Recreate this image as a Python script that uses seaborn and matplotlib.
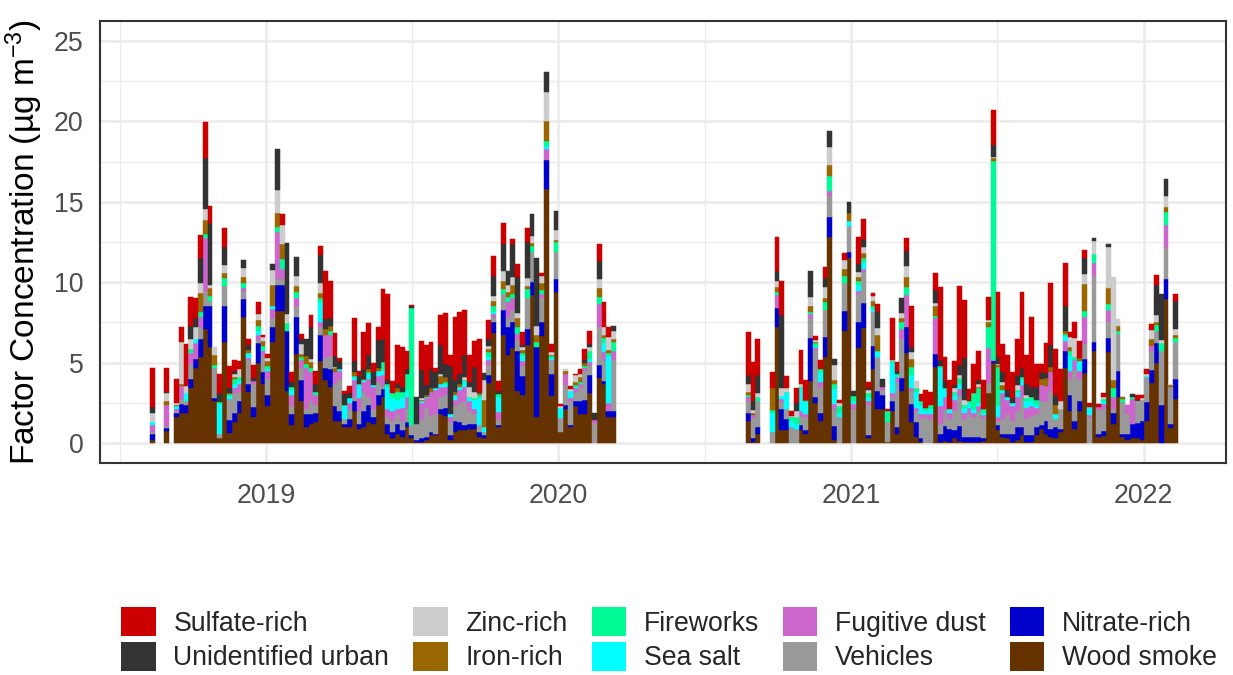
import numpy as np
import pandas as pd
import matplotlib
matplotlib.use("Agg")
import matplotlib.pyplot as plt
import matplotlib.dates as mdates
from matplotlib.patches import Patch
from matplotlib.ticker import MultipleLocator
import seaborn as sns

# ---------------------------------------------------------------------------
# Sampling: one filter every sixth day over two campaigns
# ---------------------------------------------------------------------------
campaign_1 = ("2018-08-12", "2020-03-10")
campaign_2 = ("2020-08-25", "2022-02-10")
missing_samples = ["2018-08-18", "2018-08-24", "2018-09-05", "2020-09-12", "2020-09-18"]
sample_step_days = 6

# Factors listed from the top of each stack down to the bottom
factors = ["Sulfate-rich", "Unidentified urban", "Zinc-rich", "Iron-rich", "Fireworks",
           "Sea salt", "Fugitive dust", "Vehicles", "Nitrate-rich", "Wood smoke"]
factor_colors = ["#CC0000", "#333333", "#CCCCCC", "#996600", "#00FA96",
                 "#00FFFF", "#CC66CC", "#999999", "#0000CC", "#663300"]

conc_ticks = [0, 5, 10, 15, 20, 25]

# Factor concentrations (ug m-3), campaign 1 followed by campaign 2
wood_smoke = [
    0.2, 0.75, 1.6, 1.85, 1.85, 3.45, 4.65, 5.35, 7.1, 6.0,
    2.6, 0.3, 6.3, 0.65, 1.3, 1.9, 7.85, 3.2, 1.65, 5.0,
    3.65, 2.3, 6.3, 8.2, 8.2, 3.25, 1.15, 5.55, 2.6, 1.0,
    1.2, 1.3, 5.1, 3.9, 3.5, 1.4, 1.4, 1.0, 1.0, 2.0,
    0.9, 1.0, 1.3, 1.2, 2.4, 2.85, 0.6, 0.3, 0.6, 0.4,
    1.0, 0.3, 0.1, 0.1, 0.2, 0.5, 0.5, 1.8, 1.7, 0.2,
    0.7, 0.8, 0.8, 0.9, 0.9, 0.4, 0.3, 3.75, 6.85, 1.0,
    6.75, 5.5, 5.9, 3.25, 3.0, 6.1, 9.2, 1.6, 6.65, 15.8,
    2.95, 9.4, 0.7, 2.1, 1.0, 2.3, 1.8, 1.8, 3.15, 0.0,
    4.05, 3.65, 1.6, 1.6,
    1.4, 0.05, 0.6, 0.0, 7.25, 0.8, 0.8, 0.0, 0.0, 0.8,
    0.6, 3.85, 2.5, 1.4, 5.35, 12.8, 0.2, 0.0, 6.95, 11.5,
    0.0, 5.9, 7.15, 0.3, 4.6, 2.1, 2.1, 0.1, 2.0, 0.6,
    3.25, 5.6, 1.3, 0.4, 0.1, 0.0, 0.0, 4.75, 0.1, 0.15,
    0.1, 0.3, 0.15, 0.05, 0.1, 0.1, 0.1, 0.15, 3.15, 5.0,
    0.8, 0.4, 0.3, 0.1, 0.2, 0.5, 0.1, 0.1, 0.5, 0.9,
    0.55, 0.4, 0.35, 0.7, 4.65, 2.0, 0.9, 2.0, 4.35, 0.0,
    5.75, 0.4, 0.45, 5.65, 1.2, 2.85, 0.4, 0.2, 0.3, 0.35,
    0.2, 1.4, 3.75, 5.0, 0.0, 8.95, 0.95, 2.75,
]
nitrate_rich = [
    0.35, 0.2, 0.3, 0.6, 0.55, 0.55, 0.6, 1.1, 1.45, 2.55,
    0.2, 0.0, 2.25, 0.8, 0.6, 0.7, 1.1, 0.5, 0.6, 1.2,
    0.8, 0.7, 0.9, 1.6, 1.6, 3.7, 0.65, 2.3, 1.3, 0.8,
    0.6, 0.6, 1.65, 0.8, 1.1, 0.9, 0.6, 0.2, 0.5, 0.6,
    0.3, 1.0, 1.1, 0.4, 0.6, 0.5, 0.6, 0.4, 0.6, 0.4,
    0.3, 0.2, 0.1, 0.2, 0.2, 0.2, 0.1, 0.3, 0.5, 0.3,
    0.7, 0.5, 0.3, 0.3, 0.3, 0.3, 0.2, 0.5, 0.7, 0.15,
    1.55, 1.7, 1.6, 2.45, 1.2, 1.0, 0.8, 4.4, 0.9, 1.8,
    1.35, 0.8, 0.0, 0.3, 0.1, 0.3, 0.8, 0.9, 1.1, 0.0,
    0.8, 0.2, 0.4, 0.4,
    0.5, 0.3, 0.4, 0.0, 1.15, 1.35, 0.7, 0.0, 0.0, 0.3,
    0.2, 2.7, 0.4, 0.5, 1.25, 1.25, 0.85, 0.0, 1.25, 0.4,
    0.0, 1.65, 1.55, 0.2, 1.45, 1.15, 0.9, 0.0, 0.6, 0.4,
    0.8, 1.65, 1.15, 0.9, 0.2, 0.0, 0.0, 0.8, 0.5, 0.9,
    0.8, 0.5, 0.9, 0.35, 0.3, 0.3, 0.3, 0.2, 0.0, 0.1,
    0.3, 0.2, 0.3, 0.5, 0.8, 0.5, 0.4, 0.4, 0.5, 0.2,
    0.8, 0.5, 0.65, 0.2, 1.05, 1.0, 0.5, 0.6, 0.9, 0.0,
    0.55, 0.2, 0.3, 0.9, 0.7, 1.65, 0.2, 0.4, 0.9, 0.9,
    1.15, 1.15, 0.8, 1.25, 2.4, 1.25, 0.25, 1.25,
]
vehicles = [
    0.15, 0.1, 0.1, 0.3, 0.2, 0.9, 0.0, 0.8, 0.9, 0.3,
    1.85, 0.3, 1.2, 1.3, 1.2, 0.6, 0.5, 1.5, 1.4, 0.2,
    1.0, 1.0, 0.6, 0.4, 0.4, 0.0, 0.5, 0.7, 0.8, 0.3,
    0.8, 0.5, 0.5, 0.6, 0.8, 1.35, 2.0, 0.3, 0.6, 0.3,
    0.8, 1.2, 0.5, 0.5, 0.8, 0.2, 0.4, 0.7, 0.6, 0.6,
    0.8, 0.6, 1.0, 1.2, 1.8, 1.0, 1.2, 0.8, 0.8, 0.8,
    0.9, 1.2, 1.5, 0.8, 0.6, 0.4, 0.2, 0.6, 0.3, 0.3,
    1.0, 0.6, 0.8, 0.8, 0.6, 1.95, 1.85, 0.0, 1.45, 0.0,
    0.8, 1.65, 0.85, 1.2, 1.5, 0.6, 0.8, 1.8, 0.6, 1.25,
    2.35, 1.3, 0.0, 3.2,
    0.7, 1.2, 1.65, 0.7, 0.0, 0.4, 0.6, 1.0, 0.9, 0.6,
    0.8, 1.2, 2.9, 1.6, 1.7, 1.3, 1.1, 1.6, 1.75, 1.6,
    2.15, 1.7, 1.95, 1.9, 2.1, 2.1, 0.3, 1.2, 0.3, 2.8,
    2.45, 0.0, 0.8, 0.7, 1.2, 1.6, 1.5, 0.0, 0.6, 1.0,
    0.6, 1.2, 1.9, 1.1, 1.4, 1.2, 1.6, 1.2, 0.6, 0.0,
    0.3, 0.9, 1.2, 0.8, 1.0, 1.9, 1.0, 1.2, 0.8, 1.5,
    1.2, 2.35, 0.5, 1.2, 0.0, 1.0, 3.15, 1.4, 0.9, 1.6,
    4.1, 1.45, 1.4, 1.0, 0.2, 2.3, 1.95, 1.2, 0.0, 1.3,
    1.35, 1.55, 1.2, 0.7, 3.3, 1.9, 2.3, 2.3,
]
fugitive_dust = [
    0.4, 1.35, 0.1, 0.8, 0.0, 0.7, 1.0, 0.6, 3.3, 0.0,
    0.0, 0.0, 0.0, 0.0, 0.3, 0.5, 0.2, 0.1, 0.2, 0.3,
    0.3, 0.5, 0.55, 2.9, 0.6, 0.0, 0.7, 0.5, 0.5, 2.6,
    1.85, 0.6, 0.3, 1.4, 1.3, 0.8, 0.5, 0.0, 0.4, 1.0,
    0.8, 0.6, 1.1, 1.4, 0.4, 0.7, 0.5, 0.6, 0.3, 0.8,
    0.8, 0.0, 0.0, 1.0, 0.6, 1.5, 1.5, 0.6, 0.5, 0.3,
    0.4, 0.8, 0.9, 0.6, 0.3, 0.0, 0.0, 0.3, 0.2, 0.5,
    0.0, 1.0, 0.7, 0.3, 0.3, 0.0, 0.0, 0.0, 0.3, 0.7,
    0.1, 0.0, 0.0, 0.7, 0.2, 0.2, 0.3, 0.2, 0.2, 0.2,
    1.45, 0.5, 0.5, 0.5,
    0.3, 0.2, 0.0, 0.0, 0.8, 0.2, 0.0, 0.0, 0.0, 0.3,
    0.2, 0.3, 0.1, 0.3, 0.0, 0.35, 0.3, 0.0, 0.0, 0.0,
    0.3, 0.2, 0.2, 0.2, 0.0, 0.0, 0.2, 0.0, 0.2, 0.3,
    0.6, 1.95, 0.2, 0.2, 0.3, 0.2, 0.3, 2.25, 1.1, 0.8,
    0.4, 0.7, 0.4, 0.4, 0.4, 0.3, 0.3, 0.2, 2.15, 0.1,
    0.2, 1.6, 0.9, 0.9, 0.9, 0.7, 0.7, 0.6, 0.4, 1.0,
    1.0, 1.2, 0.0, 0.0, 0.65, 0.5, 0.6, 0.5, 1.7, 0.15,
    0.8, 0.2, 0.3, 0.7, 0.8, 0.0, 0.0, 0.6, 1.55, 0.0,
    0.0, 0.0, 0.3, 0.0, 0.0, 1.45, 0.0, 0.0,
]
sea_salt = [
    0.2, 0.0, 0.2, 0.0, 0.55, 0.0, 0.25, 0.0, 0.0, 0.0,
    0.0, 1.85, 0.0, 0.2, 0.3, 0.2, 0.0, 0.3, 0.0, 0.3,
    0.0, 0.1, 0.15, 0.0, 0.0, 0.0, 0.3, 0.0, 0.0, 0.0,
    0.0, 0.0, 1.2, 0.0, 0.0, 0.0, 0.1, 0.8, 0.3, 0.2,
    0.8, 0.1, 0.3, 0.1, 0.3, 0.3, 1.4, 0.8, 0.6, 0.7,
    0.4, 0.0, 0.0, 0.1, 0.1, 0.0, 0.1, 0.2, 0.2, 0.2,
    0.3, 0.2, 0.3, 0.2, 0.6, 1.7, 0.3, 0.2, 0.1, 0.9,
    0.0, 0.0, 0.0, 0.0, 0.3, 0.0, 0.0, 0.0, 0.0, 0.15,
    0.1, 0.0, 0.65, 0.0, 0.45, 0.1, 0.0, 0.0, 0.2, 0.0,
    0.0, 0.6, 2.9, 0.0,
    0.0, 0.0, 0.0, 1.15, 0.0, 0.2, 1.0, 0.35, 0.3, 1.4,
    0.8, 0.0, 0.1, 0.6, 0.0, 0.0, 0.9, 0.3, 0.0, 0.3,
    0.2, 0.4, 0.4, 0.3, 0.2, 0.3, 0.0, 0.0, 1.9, 0.1,
    0.0, 0.0, 0.8, 1.0, 0.6, 0.2, 0.3, 0.0, 2.4, 0.5,
    0.2, 0.3, 0.3, 0.3, 0.3, 0.2, 0.2, 0.1, 0.0, 0.0,
    0.7, 0.2, 0.2, 0.2, 0.3, 0.4, 0.4, 0.3, 0.2, 0.0,
    0.0, 0.0, 0.3, 0.05, 0.3, 0.9, 0.0, 0.6, 0.0, 0.5,
    0.0, 0.0, 0.2, 0.0, 0.0, 0.0, 0.0, 0.0, 0.0, 0.1,
    0.0, 0.1, 0.0, 0.0, 0.0, 0.0, 0.0, 0.0,
]
fireworks = [
    0.0, 0.0, 0.0, 0.0, 0.0, 0.25, 0.0, 0.3, 0.25, 0.3,
    0.2, 0.1, 0.5, 0.1, 0.3, 0.2, 0.3, 0.0, 0.0, 0.3,
    0.3, 0.2, 0.0, 0.35, 0.65, 0.5, 0.2, 0.35, 0.15, 0.2,
    0.2, 0.2, 0.3, 0.0, 0.3, 0.0, 0.0, 0.1, 0.0, 0.1,
    0.1, 0.0, 0.1, 0.0, 0.0, 0.5, 0.2, 0.3, 0.5, 0.3,
    1.0, 7.3, 0.0, 0.0, 0.0, 0.0, 0.0, 0.0, 0.1, 0.0,
    0.0, 0.0, 0.1, 0.1, 0.1, 0.2, 0.0, 0.3, 0.4, 0.2,
    0.3, 0.3, 0.3, 0.4, 0.2, 0.5, 0.4, 0.3, 0.2, 0.35,
    0.1, 0.65, 0.0, 0.0, 0.0, 0.1, 0.1, 0.1, 0.5, 0.0,
    0.45, 0.3, 0.2, 0.6,
    0.1, 0.0, 0.2, 0.2, 0.2, 0.0, 0.1, 0.3, 0.4, 0.1,
    0.0, 0.1, 0.2, 0.2, 0.5, 0.9, 0.3, 0.4, 0.45, 0.0,
    0.3, 0.2, 0.25, 0.2, 0.2, 0.1, 0.0, 0.7, 0.1, 0.1,
    0.4, 0.5, 0.5, 0.2, 0.2, 0.2, 0.3, 0.1, 0.1, 0.1,
    0.0, 0.2, 0.4, 0.2, 0.1, 1.0, 0.9, 0.3, 1.35, 12.35,
    2.45, 0.0, 0.0, 0.0, 0.1, 0.1, 0.2, 0.3, 0.3, 0.0,
    0.0, 0.0, 0.0, 0.0, 0.15, 0.3, 0.2, 0.0, 0.35, 0.0,
    0.55, 0.0, 0.1, 0.4, 0.5, 0.2, 0.2, 0.0, 0.1, 0.0,
    0.0, 0.0, 0.0, 0.4, 0.5, 0.8, 0.0, 0.25,
]
iron_rich = [
    0.0, 0.2, 0.1, 0.15, 0.0, 0.0, 0.0, 1.2, 0.85, 0.5,
    0.6, 0.0, 0.3, 0.05, 0.1, 0.0, 0.4, 0.2, 0.0, 0.35,
    0.3, 0.3, 1.35, 0.85, 0.9, 0.0, 0.0, 0.35, 0.2, 0.5,
    0.4, 0.0, 0.3, 0.4, 0.3, 0.2, 0.0, 0.0, 0.0, 0.2,
    0.0, 0.1, 0.2, 0.0, 0.2, 0.0, 0.0, 0.0, 0.2, 0.0,
    0.0, 0.0, 0.0, 0.1, 0.1, 0.2, 0.0, 0.5, 0.3, 0.0,
    0.2, 0.2, 0.0, 0.0, 0.0, 0.1, 1.7, 0.2, 0.3, 0.0,
    0.5, 0.3, 0.5, 0.6, 0.2, 0.2, 0.2, 0.4, 0.45, 1.2,
    0.1, 0.15, 0.0, 0.2, 0.0, 0.2, 0.3, 0.2, 0.0, 0.0,
    0.55, 0.2, 0.2, 0.2,
    0.2, 0.1, 0.0, 1.35, 0.3, 0.0, 0.0, 0.0, 0.0, 0.0,
    0.1, 0.4, 0.1, 0.0, 0.2, 0.7, 0.3, 0.0, 0.4, 0.5,
    0.0, 0.3, 0.3, 0.0, 0.3, 1.0, 0.0, 0.0, 0.0, 0.0,
    0.3, 0.6, 0.5, 0.0, 0.0, 0.0, 0.0, 0.6, 0.0, 0.0,
    0.0, 0.0, 0.0, 0.0, 0.0, 0.0, 0.1, 0.0, 0.25, 0.15,
    0.1, 0.3, 0.0, 0.0, 0.0, 0.0, 0.0, 0.0, 0.0, 0.4,
    0.5, 0.3, 0.6, 0.0, 0.15, 0.3, 0.0, 0.2, 1.7, 0.0,
    0.0, 0.0, 0.0, 1.0, 0.5, 0.3, 0.15, 0.0, 0.0, 0.0,
    0.0, 0.0, 0.4, 0.2, 0.0, 0.35, 0.1, 0.2,
]
zinc_rich = [
    0.55, 0.5, 0.1, 2.6, 0.4, 0.65, 0.7, 0.6, 0.7, 0.15,
    0.5, 0.0, 0.5, 0.0, 0.2, 0.5, 0.55, 0.0, 0.0, 0.35,
    0.25, 0.2, 0.9, 1.45, 1.2, 0.6, 0.0, 0.65, 0.6, 0.0,
    0.2, 0.0, 0.6, 0.0, 0.0, 0.1, 0.0, 0.0, 0.0, 0.0,
    0.0, 0.0, 0.0, 0.0, 0.0, 0.0, 0.0, 0.0, 0.0, 0.0,
    0.0, 0.0, 0.0, 0.1, 0.0, 0.0, 0.0, 0.1, 0.0, 0.0,
    0.0, 0.0, 0.2, 0.6, 0.4, 0.0, 1.2, 0.2, 0.3, 0.0,
    0.6, 0.4, 0.5, 0.3, 0.2, 0.5, 0.4, 0.6, 0.45, 1.8,
    0.15, 0.6, 0.1, 0.1, 0.1, 0.45, 0.2, 0.0, 0.2, 0.0,
    0.55, 0.5, 0.8, 0.5,
    0.45, 0.2, 0.3, 0.0, 0.4, 0.5, 0.2, 0.05, 0.4, 0.2,
    0.0, 0.55, 0.1, 0.0, 0.7, 1.1, 0.9, 0.2, 0.6, 0.0,
    0.0, 0.3, 0.4, 0.2, 0.3, 0.4, 0.0, 0.0, 0.1, 0.0,
    0.3, 0.7, 0.4, 0.45, 0.0, 0.0, 0.0, 0.2, 0.0, 0.0,
    0.0, 0.2, 0.2, 0.3, 0.0, 0.0, 0.2, 0.0, 0.15, 0.1,
    0.1, 0.2, 0.0, 0.0, 0.3, 0.0, 0.2, 0.0, 0.0, 0.0,
    0.0, 0.0, 0.0, 0.5, 0.0, 0.6, 1.2, 0.0, 0.6, 0.0,
    0.8, 0.0, 0.1, 2.55, 6.4, 0.4, 0.0, 0.0, 0.0, 0.0,
    0.1, 0.1, 0.6, 0.4, 0.2, 0.65, 0.1, 0.35,
]
unidentified_urban = [
    0.4, 0.1, 0.0, 0.0, 0.0, 0.8, 0.6, 1.55, 3.2, 3.9,
    0.0, 0.6, 1.15, 0.3, 0.2, 0.0, 0.5, 0.3, 0.2, 0.0,
    0.0, 0.0, 0.4, 2.55, 0.0, 4.4, 0.3, 1.15, 0.35, 1.1,
    2.0, 0.5, 1.75, 0.6, 0.5, 0.65, 0.5, 0.65, 0.3, 0.7,
    0.5, 0.6, 0.85, 0.8, 1.7, 1.45, 0.2, 0.0, 0.3, 0.3,
    0.3, 0.1, 1.7, 1.75, 0.6, 1.2, 1.0, 1.8, 0.8, 3.0,
    0.75, 0.6, 1.4, 0.3, 1.55, 0.1, 0.45, 0.4, 1.25, 0.2,
    1.65, 0.9, 2.05, 2.2, 0.1, 2.25, 1.4, 4.2, 0.0, 1.25,
    0.0, 1.2, 0.0, 0.0, 0.0, 0.0, 0.0, 0.2, 0.2, 0.45,
    1.1, 0.0, 0.0, 0.3,
    0.6, 0.6, 1.1, 0.0, 0.6, 4.5, 0.0, 0.0, 0.5, 0.0,
    0.0, 1.6, 0.0, 0.0, 0.55, 1.0, 0.4, 0.0, 0.0, 0.7,
    0.3, 0.5, 0.5, 0.1, 0.0, 1.0, 0.5, 0.0, 0.0, 0.2,
    0.95, 0.95, 0.35, 0.0, 0.0, 0.0, 0.0, 0.8, 0.4, 0.4,
    0.0, 0.2, 0.6, 2.6, 0.0, 0.0, 0.2, 0.0, 0.0, 0.7,
    0.4, 0.6, 0.4, 0.3, 0.65, 0.6, 0.7, 0.6, 0.8, 0.4,
    0.3, 1.35, 0.6, 0.0, 1.55, 0.0, 0.0, 0.0, 1.0, 0.0,
    0.2, 0.0, 0.0, 0.2, 0.0, 0.0, 0.0, 0.0, 0.2, 0.0,
    0.0, 0.0, 0.0, 1.85, 2.85, 1.05, 0.0, 1.75,
]
sulfate_rich = [
    2.4, 1.5, 1.5, 0.9, 2.6, 1.8, 1.2, 1.45, 2.2, 1.05,
    0.0, 1.15, 1.15, 1.4, 0.7, 0.5, 0.0, 0.35, 0.8, 0.8,
    0.1, 0.25, 0.0, 0.0, 0.7, 0.0, 0.65, 0.0, 0.3, 0.0,
    0.7, 0.8, 0.55, 3.0, 2.25, 1.45, 0.2, 0.2, 0.45, 2.7,
    0.3, 2.3, 2.0, 0.6, 0.85, 3.05, 5.4, 0.75, 2.4, 2.5,
    1.15, 0.1, 0.0, 1.8, 2.5, 1.7, 0.3, 1.85, 3.2, 0.7,
    3.9, 3.85, 2.8, 1.7, 1.6, 3.25, 0.0, 1.2, 1.25, 0.6,
    1.35, 0.0, 0.35, 0.85, 0.8, 0.9, 0.0, 0.0, 0.15, 0.0,
    0.5, 0.0, 0.15, 0.0, 0.2, 0.05, 0.3, 0.65, 0.8, 0.0,
    1.1, 1.55, 0.65, 0.0,
    2.65, 2.4, 2.2, 1.05, 2.1, 2.15, 0.8, 0.3, 0.9, 2.1,
    1.2, 0.0, 0.25, 0.6, 0.7, 0.0, 0.0, 0.2, 0.4, 0.0,
    0.0, 1.65, 1.2, 0.4, 0.2, 0.5, 0.0, 0.1, 2.55, 0.55,
    0.0, 0.8, 2.5, 0.0, 0.45, 1.1, 0.8, 1.1, 4.5, 1.5,
    1.85, 1.5, 4.9, 3.6, 0.75, 1.8, 1.85, 1.8, 1.45, 2.2,
    4.05, 1.75, 2.2, 1.65, 2.2, 4.7, 1.8, 4.35, 1.4, 0.5,
    1.9, 3.85, 2.85, 1.95, 2.7, 0.3, 0.95, 1.05, 0.5, 0.25,
    0.0, 0.2, 0.3, 0.0, 0.0, 0.0, 0.0, 0.0, 0.0, 0.35,
    0.2, 0.3, 0.35, 0.65, 0.0, 0.0, 0.0, 0.4,
]

series = {
    "Sulfate-rich": sulfate_rich,
    "Unidentified urban": unidentified_urban,
    "Zinc-rich": zinc_rich,
    "Iron-rich": iron_rich,
    "Fireworks": fireworks,
    "Sea salt": sea_salt,
    "Fugitive dust": fugitive_dust,
    "Vehicles": vehicles,
    "Nitrate-rich": nitrate_rich,
    "Wood smoke": wood_smoke,
}

# ---------------------------------------------------------------------------
# Long table: one row per sample and factor
# ---------------------------------------------------------------------------
step = pd.Timedelta(days=sample_step_days)
sample_dates = pd.DatetimeIndex(
    list(pd.date_range(*campaign_1, freq=step)) + list(pd.date_range(*campaign_2, freq=step))
)
sample_dates = sample_dates[~sample_dates.isin(pd.to_datetime(missing_samples))]
for name, vals in series.items():
    assert len(vals) == len(sample_dates), (name, len(vals), len(sample_dates))

day_num = mdates.date2num(sample_dates)
long = pd.concat(
    [pd.DataFrame({"day": day_num, "factor": name, "conc": vals}) for name, vals in series.items()],
    ignore_index=True,
)

# One bin per scheduled sampling day (gaps stay empty)
first_day = mdates.date2num(pd.Timestamp(campaign_1[0]))
last_day = mdates.date2num(pd.Timestamp(campaign_2[1]))
n_slots = int(round((last_day - first_day) / sample_step_days)) + 1
bin_edges = (first_day - sample_step_days / 2 + sample_step_days * np.arange(n_slots + 1)).tolist()

# ---------------------------------------------------------------------------
# Figure
# ---------------------------------------------------------------------------
sns.set_theme(style="white")
plt.rcParams["font.family"] = ["Liberation Sans", "DejaVu Sans"]
plt.rcParams["mathtext.fontset"] = "custom"
plt.rcParams["mathtext.rm"] = "Liberation Sans"
plt.rcParams["mathtext.it"] = "Liberation Sans:italic"

fig = plt.figure(figsize=(12.33, 6.75), dpi=100)
ax = fig.add_axes([0.0811, 0.3136, 0.9133, 0.6557])

palette = dict(zip(factors, factor_colors))
sns.histplot(
    data=long, x="day", weights="conc", hue="factor", hue_order=factors,
    palette=palette, multiple="stack", bins=bin_edges, shrink=1.0,
    alpha=1, linewidth=0, legend=False, ax=ax, zorder=3,
)
# Outline each non-empty segment in its own colour so neighbouring bars join
# without seams; empty segments stay invisible
for bar in ax.patches:
    if bar.get_height() > 0:
        bar.set_edgecolor(bar.get_facecolor())
        bar.set_linewidth(0.35)
    else:
        bar.set_linewidth(0)
        bar.set_visible(False)

# Axis ranges
ax.set_xlim(mdates.date2num(pd.Timestamp("2018-06-07 12:00")),
            mdates.date2num(pd.Timestamp("2022-04-14")))
ax.set_ylim(-1.25, 26.25)

# Ticks and grid
ax.xaxis.set_major_locator(mdates.YearLocator())
ax.xaxis.set_major_formatter(mdates.DateFormatter("%Y"))
ax.xaxis.set_minor_locator(mdates.MonthLocator(bymonth=7, bymonthday=2))
ax.set_yticks(conc_ticks)
ax.yaxis.set_minor_locator(MultipleLocator(2.5))
ax.grid(True, which="major", color="#EBEBEB", linewidth=1.8, zorder=0)
ax.grid(True, which="minor", color="#EBEBEB", linewidth=0.9, zorder=0)
ax.set_axisbelow(True)

ax.tick_params(axis="both", which="major", labelsize=19.2, labelcolor="#4D4D4D",
               color="#333333", length=6.5, width=1.5)
ax.tick_params(axis="x", which="major", pad=8)
ax.tick_params(axis="y", which="major", pad=5.5)
ax.tick_params(axis="both", which="minor", length=0)
for spine in ax.spines.values():
    spine.set_visible(True)
    spine.set_color("#333333")
    spine.set_linewidth(1.5)

ax.set_xlabel("")
ax.set_ylabel("Factor Concentration (µg m$^{-3}$)", fontsize=24, color="black", labelpad=6)

# Legend below the panel
handles = [Patch(facecolor=palette[f], edgecolor="none") for f in factors]
fig.legend(handles, factors, ncol=5, loc="center", bbox_to_anchor=(0.5425, 0.053),
           frameon=False, fontsize=19.2, handlelength=1.3, handleheight=1.3,
           handletextpad=0.65, columnspacing=0.9, labelspacing=0.2, borderaxespad=0)

fig.savefig("out.png", dpi=100)
